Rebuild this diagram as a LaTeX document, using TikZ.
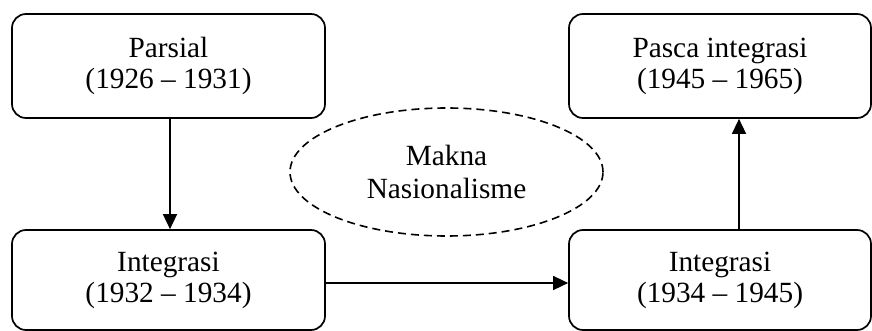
\documentclass[tikz,border=0pt]{standalone}
\usepackage{fontspec}
\setmainfont{Liberation Serif}
\usetikzlibrary{shapes.geometric,arrows.meta}
\begin{document}
\begin{tikzpicture}[x=1pt,y=-1pt,
  box/.style={draw,line width=1.7pt,rounded corners=14pt,align=center,inner sep=0pt,
    font=\fontsize{29.3}{31}\selectfont},
  oval/.style={draw,ellipse,dashed,dash pattern=on 8pt off 5pt,line width=1.6pt,align=center,inner sep=0pt,
    font=\fontsize{29.3}{33}\selectfont},
  conn/.style={line width=1.5pt,-{Triangle[length=15pt,width=14pt]}}]
\useasboundingbox (0,0) rectangle (872,331);
\node[box,minimum width=313pt,minimum height=104pt] (b1) at (168.5,66) {Parsial\\(1926 – 1931)};
\node[box,minimum width=302pt,minimum height=104pt] (b2) at (720,66) {Pasca integrasi\\(1945 – 1965)};
\node[box,minimum width=313pt,minimum height=100pt] (b3) at (168.5,280) {Integrasi\\(1932 – 1934)};
\node[box,minimum width=302pt,minimum height=100pt] (b4) at (720,280) {Integrasi\\(1934 – 1945)};
\node[oval,minimum width=313pt,minimum height=128pt] (e) at (446.5,172) {Makna\\Nasionalisme};
\draw[conn] ([xshift=1.5pt]b1.south) -- ([xshift=1.5pt]b3.north);
\draw[conn] ([yshift=-3pt]b3.east) -- ([yshift=-3pt]b4.west);
\draw[conn] ([xshift=19pt]b4.north) -- ([xshift=19pt]b2.south);
\end{tikzpicture}
\end{document}
